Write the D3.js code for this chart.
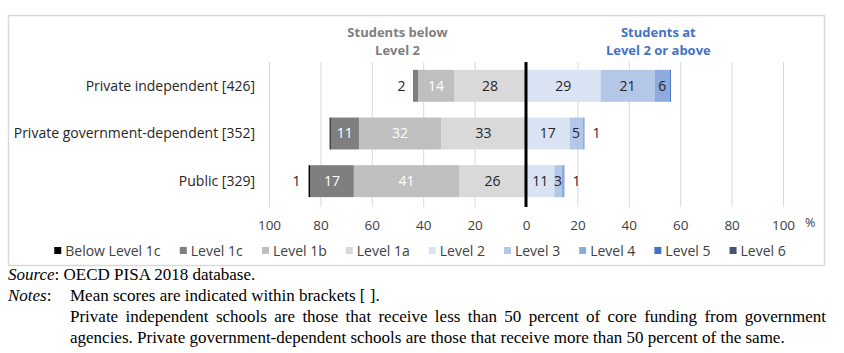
<!DOCTYPE html>
<html>
<head>
<meta charset="utf-8">
<script src="https://cdn.jsdelivr.net/npm/d3@7"></script>
<style>
  body { margin: 0; background: #fff; }
  svg { display: block; }
</style>
</head>
<body>
<div id="chart"></div>
<script>
const width = 844, height = 353;

// data (percent of students)
const categories = ["Private independent [426]", "Private government-dependent [352]", "Public [329]"];
const levels = ["Below Level 1c", "Level 1c", "Level 1b", "Level 1a", "Level 2", "Level 3", "Level 4", "Level 5", "Level 6"];
const belowLevel1c = [0.2, 0.4, 0.6];
const level1c = [1.6, 11, 17];
const level1b = [14, 32, 41];
const level1a = [28, 33, 26];
const level2 = [29, 17, 11];
const level3 = [21, 5, 3];
const level4 = [6, 0.8, 1];
const level5 = [0.4, 0, 0];
const level6 = [0, 0, 0];
const tickValues = [-100, -80, -60, -40, -20, 0, 20, 40, 60, 80, 100];

const colors = ["#000000", "#7f7f7f", "#bfbfbf", "#d9d9d9", "#dae3f3", "#b4c7e7", "#8faadc", "#4472c4", "#44546a"];
const whiteLabel = ["Level 1c", "Level 1b", "Level 5", "Level 6"];

const series = [belowLevel1c, level1c, level1b, level1a, level2, level3, level4, level5, level6];
const below = ["Below Level 1c", "Level 1c", "Level 1b", "Level 1a"];

// table for d3.stack, values below Level 2 go negative
const table = categories.map((c, i) => {
  const row = { category: c };
  levels.forEach((l, j) => {
    row[l] = below.includes(l) ? -series[j][i] : series[j][i];
  });
  return row;
});

// stacking order from the zero line outwards
const keys = ["Level 1a", "Level 1b", "Level 1c", "Below Level 1c", "Level 2", "Level 3", "Level 4", "Level 5", "Level 6"];
const stacked = d3.stack().keys(keys).offset(d3.stackOffsetDiverging)(table);

const font = "'Open Sans', Roboto, sans-serif";

const svg = d3.select("#chart")
  .append("svg")
  .attr("width", width)
  .attr("height", height)
  .attr("viewBox", [0, 0, width, height]);

// chart frame
svg.append("rect")
  .attr("x", 8.5).attr("y", 15.5)
  .attr("width", 816).attr("height", 250)
  .attr("fill", "none")
  .attr("stroke", "#d9d9d9")
  .attr("stroke-width", 1.5);

const x = d3.scaleLinear().domain([-100, 100]).range([269, 783]);
const y = d3.scaleBand().domain(categories).range([62, 205]).paddingInner(0.33).paddingOuter(0.165);

// gridlines
svg.append("g")
  .selectAll("line")
  .data(tickValues.filter(d => d !== 0))
  .join("line")
  .attr("x1", d => x(d) + 0.5).attr("x2", d => x(d) + 0.5)
  .attr("y1", 62).attr("y2", 207)
  .attr("stroke", "#d9d9d9")
  .attr("stroke-width", 1);

// axis labels
const axis = d3.axisBottom(x)
  .tickValues(tickValues)
  .tickFormat(d => Math.abs(d))
  .tickSize(0)
  .tickPadding(0);

const ax = svg.append("g")
  .attr("transform", "translate(0,220)")
  .call(axis);
ax.select(".domain").remove();
ax.selectAll("text")
  .attr("font-family", font)
  .attr("font-size", 13.5)
  .attr("fill", "#404040");

svg.append("text")
  .attr("x", 805).attr("y", 227)
  .attr("font-family", font)
  .attr("font-size", 12.5)
  .attr("fill", "#404040")
  .text("%");

// bars
const groups = svg.append("g")
  .selectAll("g")
  .data(stacked)
  .join("g")
  .attr("fill", d => colors[levels.indexOf(d.key)]);

groups.selectAll("rect")
  .data(d => d.map(v => Object.assign(v, { key: d.key })))
  .join("rect")
  .attr("x", d => x(Math.min(d[0], d[1])))
  .attr("width", d => Math.abs(x(d[1]) - x(d[0])))
  .attr("y", d => y(d.data.category))
  .attr("height", y.bandwidth());

// value labels
const labels = [];
stacked.forEach(s => {
  s.forEach(d => {
    const v = Math.abs(d[1] - d[0]);
    const shown = Math.round(v);
    if (shown < 1) return;
    const neg = d[1] < 0 || d[0] < 0;
    let lx, outside = v < 2.5;
    if (outside) {
      const row = d.data;
      const ends = stacked.map(t => t[categories.indexOf(row.category)]);
      const end = neg ? d3.min(ends, e => Math.min(e[0], e[1])) : d3.max(ends, e => Math.max(e[0], e[1]));
      lx = x(end) + (neg ? -12 : 12);
    } else {
      lx = x((d[0] + d[1]) / 2);
    }
    labels.push({
      x: lx,
      y: y(d.data.category) + y.bandwidth() / 2,
      text: shown,
      fill: !outside && whiteLabel.includes(s.key) ? "#ffffff" : "#262626"
    });
  });
});

svg.append("g")
  .selectAll("text")
  .data(labels)
  .join("text")
  .attr("x", d => d.x)
  .attr("y", d => d.y)
  .attr("dy", "0.35em")
  .attr("text-anchor", "middle")
  .attr("font-family", font)
  .attr("font-size", 14)
  .attr("fill", d => d.fill)
  .text(d => d.text);

// zero line
svg.append("line")
  .attr("x1", x(0)).attr("x2", x(0))
  .attr("y1", 62).attr("y2", 207)
  .attr("stroke", "#000")
  .attr("stroke-width", 3);

// category labels
svg.append("g")
  .selectAll("text")
  .data(categories)
  .join("text")
  .attr("x", 255)
  .attr("y", d => y(d) + y.bandwidth() / 2)
  .attr("dy", "0.35em")
  .attr("text-anchor", "end")
  .attr("font-family", font)
  .attr("font-size", 14)
  .attr("fill", "#262626")
  .text(d => d);

// headers
const headers = [
  { x: x(-50), lines: ["Students below", "Level 2"], fill: "#7f7f7f" },
  { x: x(51.5), lines: ["Students at", "Level 2 or above"], fill: "#4472c4" }
];
headers.forEach(h => {
  svg.append("text")
    .attr("x", h.x)
    .attr("y", 37)
    .attr("text-anchor", "middle")
    .attr("font-family", font)
    .attr("font-size", 13)
    .attr("font-weight", "bold")
    .attr("fill", h.fill)
    .selectAll("tspan")
    .data(h.lines)
    .join("tspan")
    .attr("x", h.x)
    .attr("dy", (d, i) => i ? 18 : 0)
    .text(d => d);
});

// legend
const legend = svg.append("g").attr("transform", "translate(0,251)");
const items = legend.selectAll("g")
  .data(levels)
  .join("g");
items.append("rect")
  .attr("width", 7).attr("height", 7)
  .attr("y", -4)
  .attr("fill", (d, i) => colors[i]);
items.append("text")
  .attr("x", 11)
  .attr("dy", "0.35em")
  .attr("font-family", font)
  .attr("font-size", 14)
  .attr("fill", "#404040")
  .text(d => d);

const legendGap = 19;
let lx = 0;
items.each(function () {
  const w = this.getBBox().width;
  d3.select(this).attr("transform", `translate(${lx},0)`);
  lx += w + legendGap;
});
const legendWidth = lx - legendGap;
legend.attr("transform", `translate(${420 - legendWidth / 2},251)`);

// source and notes below the chart
const serif = "'Liberation Serif', 'Times New Roman', serif";
const notes = svg.append("g")
  .attr("font-family", serif)
  .attr("font-size", 17)
  .attr("fill", "#000");

const src = notes.append("text").attr("x", 8).attr("y", 280);
src.append("tspan").attr("font-style", "italic").text("Source");
src.append("tspan").text(": OECD PISA 2018 database.");

const nt = notes.append("text").attr("x", 8).attr("y", 301);
nt.append("tspan").attr("font-style", "italic").text("Notes");
nt.append("tspan").text(":");
notes.append("text").attr("x", 70).attr("y", 301)
  .text("Mean scores are indicated within brackets [ ].");

const para = notes.append("text").attr("x", 70).attr("y", 322)
  .text("Private independent schools are those that receive less than 50 percent of core funding from government");
// justify the full line by widening the word gaps
const natural = para.node().getComputedTextLength();
const gaps = para.text().split(" ").length - 1;
para.attr("word-spacing", (826 - 70 - natural) / gaps);

notes.append("text").attr("x", 70).attr("y", 343)
  .text("agencies. Private government-dependent schools are those that receive more than 50 percent of the same.");
</script>
</body>
</html>
